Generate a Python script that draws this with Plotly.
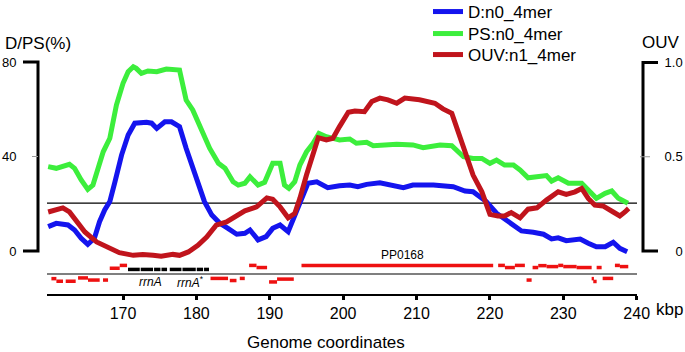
import plotly.graph_objects as go

# ---------------- data ----------------
d_kbp = [159.8, 160.9, 162.5, 163.4, 164.3, 165.2, 166.1, 166.8, 167.5, 168.2, 168.9, 169.8, 170.7, 171.6,
         173.2, 173.9, 174.6, 175.7, 176.6, 177.7, 178.6, 179.8, 181.1, 182.1, 183.2, 184.3, 185.5, 186.6,
         187.3, 188.4, 189.5, 190.4, 191.4, 192.5, 193.4, 194.3, 195.2, 196.4, 197.3, 197.9, 199.5, 200.9,
         202.0, 203.2, 205.0, 206.8, 208.2, 209.5, 212.3, 215.0, 216.6, 217.7, 219.5, 220.9, 222.7, 224.3,
         225.9, 227.3, 228.4, 229.3, 230.4, 232.3, 233.4, 234.5, 235.7, 236.8, 237.7, 238.7]
d_pct = [10.3, 11.7, 11.0, 8.9, 5.4, 2.8, 5.4, 12.4, 17.4, 20.9, 29.3, 40.6, 49.1, 54.1,
         54.5, 54.1, 51.9, 54.7, 54.7, 52.6, 43.5, 32.2, 20.9, 15.2, 11.7, 9.6, 7.1, 7.5,
         8.9, 4.7, 6.1, 9.6, 11.0, 8.2, 15.2, 22.3, 28.7, 29.3, 27.9, 26.8, 27.6, 27.9,
         27.2, 28.2, 28.9, 27.9, 26.8, 27.9, 27.9, 27.2, 25.4, 25.1, 20.9, 16.0, 11.7, 8.5,
         7.9, 7.1, 5.1, 5.6, 4.4, 5.1, 3.3, 1.8, 1.8, 3.7, 1.1, -0.3]

ps_kbp = [159.8, 160.9, 162.7, 163.4, 164.3, 165.2, 165.9, 166.6, 167.3, 168.2, 169.1, 170.0, 170.7, 171.4,
          171.8, 172.5, 173.4, 174.6, 175.9, 177.7, 178.2, 178.6, 179.5, 180.9, 181.8, 183.0, 183.9, 185.0,
          185.7, 186.6, 187.3, 188.4, 189.3, 190.4, 191.4, 192.0, 192.6, 193.4, 194.1, 195.0, 195.9, 196.7,
          197.7, 199.5, 200.9, 201.8, 203.2, 204.1, 207.3, 209.5, 210.9, 213.2, 214.8, 216.4, 217.7, 218.9,
          220.0, 220.9, 222.0, 223.2, 224.1, 225.2, 226.8, 227.7, 228.4, 229.3, 230.7, 232.5, 233.4, 234.5,
          235.7, 236.6, 237.5, 238.6, 238.8]
ps_pct = [35.7, 35.0, 36.7, 35.0, 30.1, 26.1, 27.9, 35.0, 42.0, 47.7, 61.8, 71.0, 75.9, 78.0,
          77.3, 75.2, 76.2, 75.9, 77.0, 76.6, 70.3, 63.9, 59.7, 50.5, 43.5, 37.1, 35.0, 29.3,
          27.9, 28.7, 31.4, 27.9, 29.1, 37.1, 37.1, 27.9, 26.5, 29.3, 36.4, 42.0, 45.6, 49.8,
          48.4, 47.0, 47.4, 45.6, 46.0, 44.6, 45.2, 44.9, 43.7, 44.9, 44.6, 39.9, 39.2, 39.2,
          37.1, 38.5, 36.4, 36.4, 34.3, 31.0, 31.4, 31.9, 29.6, 31.0, 28.7, 28.7, 25.8, 22.3,
          24.4, 25.4, 22.3, 20.6, 20.2]

ouv_kbp = [159.8, 160.9, 161.8, 162.7, 163.6, 164.8, 166.4, 168.2, 169.5, 171.4, 172.7, 174.1, 175.2, 176.8,
           177.7, 178.9, 180.2, 181.4, 182.7, 184.1, 185.5, 186.6, 187.3, 188.2, 189.6, 190.4, 191.4, 192.5,
           193.4, 194.1, 195.0, 195.9, 196.6, 197.7, 198.6, 199.5, 200.7, 201.6, 202.9, 203.9, 205.0, 206.1,
           207.3, 208.4, 210.4, 212.5, 213.6, 214.8, 215.7, 216.8, 217.7, 218.9, 220.0, 221.1, 222.0, 222.9,
           224.1, 225.2, 226.4, 227.7, 229.3, 230.4, 231.6, 232.5, 233.4, 234.3, 235.4, 236.8, 237.7, 238.4,
           238.9]
ouv_val = [0.207, 0.216, 0.229, 0.207, 0.163, 0.101, 0.048, 0.013, -0.009, -0.023, -0.019, -0.023, -0.028, -0.018,
           -0.023, -0.005, 0.030, 0.074, 0.137, 0.154, 0.190, 0.213, 0.222, 0.234, 0.282, 0.275, 0.234, 0.176,
           0.199, 0.279, 0.403, 0.518, 0.601, 0.589, 0.598, 0.660, 0.736, 0.743, 0.739, 0.793, 0.811, 0.802,
           0.784, 0.811, 0.802, 0.784, 0.754, 0.731, 0.633, 0.500, 0.403, 0.314, 0.194, 0.186, 0.186, 0.204,
           0.176, 0.222, 0.229, 0.270, 0.314, 0.300, 0.314, 0.332, 0.279, 0.243, 0.239, 0.207, 0.186, 0.207,
           0.226]

# annotation track (kbp start, kbp end, track level)
red_start = [168.19, 169.55, 187.18, 188.19, 194.32, 221.12, 222.04, 223.40, 225.81, 226.58, 227.72, 229.30,
             229.99, 231.81, 234.54, 237.03, 237.71,
             160.24, 160.92, 162.19, 163.87, 165.23, 167.27, 181.92, 184.55, 185.91, 189.90, 190.99,
             224.99, 233.86, 234.08, 235.36]
red_end = [169.55, 170.55, 188.19, 189.63, 220.44, 222.04, 223.40, 224.76, 226.58, 227.72, 229.30, 229.99,
           231.81, 233.86, 235.22, 237.71, 238.85,
           160.92, 161.82, 163.55, 165.23, 166.82, 167.96, 184.31, 185.46, 186.59, 190.99, 193.27,
           225.68, 234.17, 234.54, 236.80]
red_level = [-7.3, -6.1, -6.1, -7.0, -6.1, -6.1, -7.0, -6.1, -7.0, -6.2, -6.6, -6.1,
             -6.6, -7.0, -7.0, -6.1, -6.6,
             -11.7, -12.8, -12.8, -11.4, -12.3, -12.3, -11.6, -12.5, -11.6, -13.1, -11.9,
             -12.3, -11.7, -12.9, -11.6]

rrn_start = [170.68, 172.41, 174.23, 175.24, 176.37, 178.10, 180.05, 181.04]
rrn_end = [172.28, 174.09, 175.10, 176.00, 177.96, 179.91, 180.91, 181.72]
rrn_level = -7.8

threshold_pct = 20.3
track_line = -9.74

x_ticks = [170, 180, 190, 200, 210, 220, 230, 240]
left_ticks = [0, 40, 80]
right_ticks = [0, 0.5, 1.0]
right_ticktext = ["\u00a0\u00a0\u00a00", "0.5", "1.0"]

FONT = "Liberation Sans, Arial, sans-serif"
BLUE = "#1414ee"
GREEN = "#3cee3c"
RED = "#c0141c"


def segs(starts, ends, levels):
    xs, ys = [], []
    if not isinstance(levels, list):
        levels = [levels] * len(starts)
    for s, e, l in zip(starts, ends, levels):
        xs += [s, e, None]
        ys += [l, l, None]
    return xs, ys


fig = go.Figure()
fig.add_trace(go.Scatter(x=d_kbp, y=d_pct, mode="lines", name="D:n0_4mer", legend="legend",
                         line=dict(color=BLUE, width=5), yaxis="y"))
fig.add_trace(go.Scatter(x=ps_kbp, y=ps_pct, mode="lines", name="PS:n0_4mer", legend="legend2",
                         line=dict(color=GREEN, width=5), yaxis="y"))
rx, ry = segs(red_start, red_end, red_level)
fig.add_trace(go.Scatter(x=rx, y=ry, mode="lines", showlegend=False,
                         line=dict(color="#ee1111", width=3.5), yaxis="y"))
bx, by = segs(rrn_start, rrn_end, rrn_level)
fig.add_trace(go.Scatter(x=bx, y=by, mode="lines", showlegend=False,
                         line=dict(color="black", width=3.5), yaxis="y"))
fig.add_trace(go.Scatter(x=ouv_kbp, y=ouv_val, mode="lines", name="OUV:n1_4mer", legend="legend3",
                         line=dict(color=RED, width=5), yaxis="y2"))

W = 605.0
H = 239.0
shapes = [
    dict(type="path", xref="paper", yref="y",
         path=f"M{-15/W},80 L0,80 L0,0 L{-15/W},0", line=dict(color="black", width=3)),
    dict(type="line", xref="paper", yref="y", x0=-6/W, x1=0, y0=40, y1=40,
         line=dict(color="#999999", width=1)),
    dict(type="path", xref="paper", yref="y2",
         path=f"M{1+15/W},1 L1,1 L1,0 L{1+15/W},0", line=dict(color="black", width=3)),
    dict(type="line", xref="paper", yref="y2", x0=1 - 3/W, x1=1 + 7/W, y0=0.5, y1=0.5,
         line=dict(color="#999999", width=1)),
    dict(type="line", xref="x domain", yref="y", x0=0, x1=1, y0=threshold_pct, y1=threshold_pct,
         line=dict(color="black", width=1.2), layer="below"),
    dict(type="line", xref="x domain", yref="y", x0=0, x1=1, y0=track_line, y1=track_line,
         line=dict(color="black", width=1.2), layer="below"),
]

annotations = [
    dict(text="D/PS(%)", xref="paper", yref="paper", x=-35/W, y=1.0502, xanchor="left",
         yanchor="middle", showarrow=False, font=dict(size=17)),
    dict(text="OUV", xref="paper", yref="paper", x=0.995, y=1.054, xanchor="left",
         yanchor="middle", showarrow=False, font=dict(size=17)),
    dict(text="Genome coordinates", xref="paper", yref="paper", x=0.476, y=-0.205,
         xanchor="center", yanchor="middle", showarrow=False, font=dict(size=17)),
    dict(text="kbp", xref="paper", yref="paper", x=1.0182, y=-0.0669, xanchor="left",
         yanchor="middle", showarrow=False, font=dict(size=17)),
    dict(text="PP0168", xref="x", yref="y", x=208.13, y=-1.69, showarrow=False,
         font=dict(size=12)),
    dict(text="<i>rrnA</i>", xref="x", yref="y", x=173.76, y=-13.0, showarrow=False,
         font=dict(size=12)),
    dict(text="<i>rrnA</i><sup>*</sup>", xref="x", yref="y", x=179.2, y=-13.0, showarrow=False,
         font=dict(size=12)),
]


def leg(center_py):
    return dict(x=(428 - 38) / W, y=(294 - (center_py - 16)) / H, xanchor="left", yanchor="top",
                font=dict(size=17), bgcolor="rgba(0,0,0,0)")


fig.update_layout(
    width=685, height=352,
    margin=dict(l=38, r=42, t=55, b=58, autoexpand=False),
    paper_bgcolor="white", plot_bgcolor="white",
    font=dict(family=FONT, color="black"),
    showlegend=True,
    legend=leg(10), legend2=leg(32), legend3=leg(53),
    xaxis=dict(domain=[9 / W, 599 / W], range=[159.64, 240.04], showline=True,
               linecolor="black", linewidth=2, ticks="outside", ticklen=4, tickwidth=3,
               tickcolor="black", tickvals=x_ticks, tickfont=dict(size=16),
               showgrid=False, zeroline=False),
    yaxis=dict(anchor="free", position=0, range=[-18.201, 82.963], showline=False,
               showgrid=False, zeroline=False, tickvals=left_ticks, ticks="outside",
               ticklen=19, tickcolor="rgba(0,0,0,0)", tickfont=dict(size=13)),
    yaxis2=dict(overlaying="y", side="right", anchor="free", position=1,
                range=[-0.2281, 1.0398], showline=False, showgrid=False, zeroline=False,
                tickvals=right_ticks, ticktext=right_ticktext, ticks="outside",
                ticklen=18, tickcolor="rgba(0,0,0,0)", tickfont=dict(size=13)),
    shapes=shapes,
    annotations=annotations,
)

fig.write_html("out.html", config={"displayModeBar": False},
               post_script="document.body.style.margin='0';")
